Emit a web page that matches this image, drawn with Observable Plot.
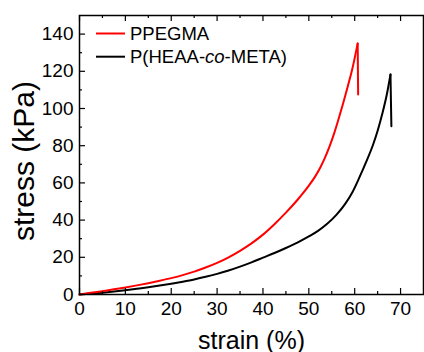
<!DOCTYPE html>
<html>
<head>
<meta charset="utf-8">
<script src="https://cdn.jsdelivr.net/npm/d3@7"></script>
<script src="https://cdn.jsdelivr.net/npm/@observablehq/plot@0.6"></script>
<style>
  html, body { margin: 0; padding: 0; background: #fff; }
  #chart { width: 424px; height: 352px; }
</style>
</head>
<body>
<div id="chart"></div>
<script>
// Series names
const seriesNames = ["PPEGMA", "P(HEAA-co-META)"];
const seriesColors = ["#ff0000", "#000000"];

// PPEGMA (red): strain (%) and stress (kPa); last point = fracture drop
const ppegmaStrain = [0, 2.5, 5, 7.5, 10, 12.5, 15, 17.5, 20, 22.5, 25, 27.5, 30, 32.5, 35, 37.5, 40, 42.5, 45, 47.5, 50, 51.4, 52.5, 53.5, 54.5, 55.5, 56.5, 57.5, 58.5, 59.5, 60.65, 60.75];
const ppegmaStress = [0, 0.9, 1.8, 2.8, 3.8, 4.9, 6.1, 7.4, 8.8, 10.4, 12.3, 14.5, 17.0, 20.0, 23.5, 27.5, 32.2, 37.8, 44.0, 50.8, 58.5, 63.5, 68.3, 73.5, 79.5, 86.5, 94.5, 103.0, 112.0, 121.5, 135.0, 107.5];

// P(HEAA-co-META) (black): strain (%) and stress (kPa); last point = fracture drop
const heaaStrain = [0, 2.5, 5, 7.5, 10, 12.5, 15, 17.5, 20, 22.5, 25, 27.5, 30, 32.5, 35, 37.5, 40, 42.5, 45, 47.5, 50, 52, 54, 56, 58, 59.5, 61, 62.5, 64, 65, 66, 67, 67.8, 68.0];
const heaaStress = [0, 0.5, 1.0, 1.6, 2.3, 3.1, 3.9, 4.8, 5.8, 6.9, 8.1, 9.5, 11.1, 12.9, 15.0, 17.3, 19.8, 22.3, 25.0, 27.9, 31.2, 34.2, 38.0, 42.8, 49.0, 55.0, 62.8, 71.3, 80.5, 88.0, 97.0, 107.5, 118.3, 90.5];

// Axis ticks
const xMajor = [0, 10, 20, 30, 40, 50, 60, 70];
const xMinor = [5, 15, 25, 35, 45, 55, 65];
const yMajor = [0, 20, 40, 60, 80, 100, 120, 140];
const yMinor = [10, 30, 50, 70, 90, 110, 130];
const xTitle = "strain (%)";
const yTitle = "stress (kPa)";

function toPoints(xs, ys) { return xs.map((x, i) => ({x, y: ys[i]})); }
const ppegma = toPoints(ppegmaStrain, ppegmaStress);
const heaa = toPoints(heaaStrain, heaaStress);
// rising part (smooth) and fracture drop (straight)
const ppegmaRise = ppegma.slice(0, -1), ppegmaDrop = ppegma.slice(-2);
const heaaRise = heaa.slice(0, -1), heaaDrop = heaa.slice(-2);

const W = 424, H = 352;
const mL = 79, mR = 1, mT = 15, mB = 58;
const innerH = H - mT - mB;
const innerW = W - mL - mR;
const major = 6, minor = 3;
const font = "'Liberation Sans', Arial, Helvetica, sans-serif";

const chart = Plot.plot({
  width: W,
  height: H,
  marginLeft: mL,
  marginRight: mR,
  marginTop: mT,
  marginBottom: mB,
  style: {fontFamily: font, background: "#fff", color: "#000", overflow: "visible"},
  x: {domain: [0, 75]},
  y: {domain: [0, 150]},
  marks: [
    Plot.line(heaaRise, {x: "x", y: "y", stroke: seriesColors[1], strokeWidth: 2, curve: "monotone-x"}),
    Plot.line(heaaDrop, {x: "x", y: "y", stroke: seriesColors[1], strokeWidth: 2}),
    Plot.line(ppegmaRise, {x: "x", y: "y", stroke: seriesColors[0], strokeWidth: 2, curve: "monotone-x"}),
    Plot.line(ppegmaDrop, {x: "x", y: "y", stroke: seriesColors[0], strokeWidth: 2}),
    // inward ticks, bottom
    Plot.tickX(xMajor, {x: d => d, insetTop: innerH - major, stroke: "#000", strokeWidth: 1.2}),
    Plot.tickX(xMinor, {x: d => d, insetTop: innerH - minor, stroke: "#000", strokeWidth: 1.2}),
    // inward ticks, top
    Plot.tickX(xMajor, {x: d => d, insetBottom: innerH - major, stroke: "#000", strokeWidth: 1.2}),
    Plot.tickX(xMinor, {x: d => d, insetBottom: innerH - minor, stroke: "#000", strokeWidth: 1.2}),
    // inward ticks, left
    Plot.tickY(yMajor, {y: d => d, insetRight: innerW - major, stroke: "#000", strokeWidth: 1.2}),
    Plot.tickY(yMinor, {y: d => d, insetRight: innerW - minor, stroke: "#000", strokeWidth: 1.2}),
    Plot.axisX({ticks: xMajor, tickSize: 0, tickPadding: 7, fontSize: 19, label: null}),
    Plot.axisY({ticks: yMajor, tickSize: 0, tickPadding: 6, fontSize: 19, label: null}),
    Plot.text([xTitle], {frameAnchor: "bottom", textAnchor: "middle", dy: 54, lineAnchor: "bottom", fontSize: 25, fill: "#000"}),
    Plot.text([yTitle], {frameAnchor: "left", textAnchor: "middle", rotate: -90, dx: -46, dy: 6, lineAnchor: "bottom", fontSize: 30, fill: "#000"}),
    Plot.frame({stroke: "#000", strokeWidth: 1.5})
  ]
});

// Legend inside the plot, top-left
const svg = d3.select(chart);
const leg = svg.append("g").attr("font-family", font).attr("font-size", 18.5).attr("text-anchor", "start");
const rowsY = [33.5, 56.7];
seriesNames.forEach((name, i) => {
  const y = rowsY[i];
  leg.append("line").attr("x1", 96).attr("x2", 125).attr("y1", y).attr("y2", y)
    .attr("stroke", seriesColors[i]).attr("stroke-width", 2);
  const t = leg.append("text").attr("x", 130).attr("y", y).attr("dy", "0.35em")
    .attr("fill", "#000").attr("text-anchor", "start");
  const parts = name.split("co");
  if (parts.length === 2) {
    t.append("tspan").text(parts[0]);
    t.append("tspan").attr("font-style", "italic").text("co");
    t.append("tspan").text(parts[1]);
  } else {
    t.text(name);
  }
});

document.getElementById("chart").appendChild(chart);
</script>
</body>
</html>
